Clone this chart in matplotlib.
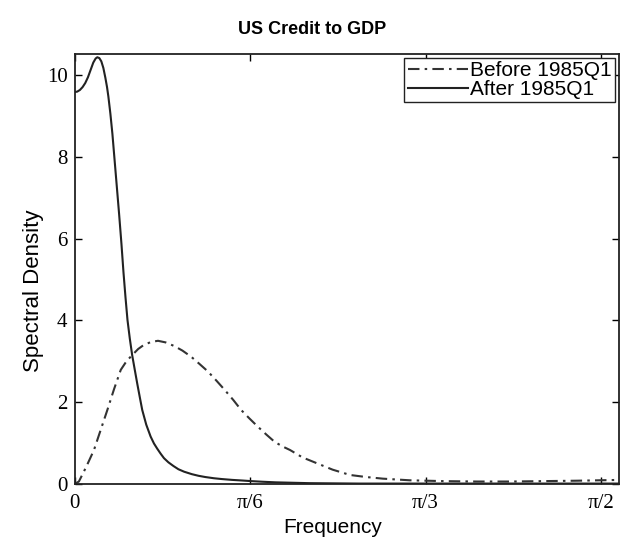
import numpy as np
import matplotlib
matplotlib.use("Agg")
import matplotlib.pyplot as plt

# spectral density
freq_before = [0.0, 0.013, 0.035, 0.058, 0.078, 0.098, 0.118, 0.138, 0.155, 0.172, 0.19, 0.207,
               0.228, 0.249, 0.272, 0.298, 0.322, 0.348, 0.372, 0.398, 0.424, 0.448, 0.474,
               0.497, 0.522, 0.547, 0.572, 0.597, 0.62, 0.643, 0.68, 0.722, 0.77, 0.822,
               0.87, 0.92, 1.0, 1.1, 1.2, 1.3, 1.4, 1.5, 1.63]
dens_before = [0.0, 0.06, 0.42, 0.83, 1.32, 1.81, 2.32, 2.79, 3.0, 3.15, 3.3, 3.40,
               3.47, 3.50, 3.46, 3.37, 3.26, 3.11, 2.94, 2.75, 2.52, 2.30, 2.05,
               1.81, 1.60, 1.40, 1.21, 1.03, 0.92, 0.83, 0.65, 0.51, 0.35, 0.22,
               0.17, 0.13, 0.09, 0.07, 0.06, 0.06, 0.07, 0.08, 0.10]

freq_after = [0.0, 0.008, 0.016, 0.024, 0.032, 0.04, 0.048, 0.056, 0.063, 0.068, 0.074,
              0.08, 0.086, 0.092, 0.097, 0.101, 0.107, 0.113, 0.118, 0.123, 0.128, 0.133,
              0.14, 0.146, 0.152, 0.158, 0.165, 0.172, 0.18, 0.187, 0.195, 0.202, 0.214,
              0.227, 0.237, 0.247, 0.257, 0.267, 0.28, 0.295, 0.31, 0.327, 0.35,
              0.37, 0.39, 0.416, 0.44, 0.47, 0.5, 0.527, 0.56, 0.6, 0.65, 0.7, 0.85, 1.0, 1.3, 1.63]
dens_after = [9.58, 9.59, 9.63, 9.70, 9.80, 9.94, 10.12, 10.30, 10.40, 10.43, 10.41,
              10.33, 10.17, 9.93, 9.70, 9.47, 9.05, 8.56, 8.07, 7.58, 7.09, 6.60,
              5.87, 5.18, 4.57, 4.01, 3.55, 3.15, 2.78, 2.46, 2.11, 1.81, 1.45,
              1.16, 0.99, 0.86, 0.74, 0.63, 0.53, 0.44, 0.36, 0.30, 0.24,
              0.20, 0.17, 0.14, 0.12, 0.10, 0.085, 0.07, 0.055, 0.04, 0.03, 0.02, 0.01, 0.01, 0.01, 0.01]

xticks = [0, np.pi / 6, np.pi / 3, np.pi / 2]
xtick_labels = ["0", "\u03c0/6", "\u03c0/3", "\u03c0/2"]
yticks = [0, 2, 4, 6, 8, 10]

fig = plt.figure(figsize=(6.21, 5.41), dpi=100)
ax = fig.add_axes([0.12, 0.1054, 0.8768, 0.7948])

ax.plot(freq_before, dens_before, color="#333333", lw=1.5,
        linestyle=(0, (5.5, 2.5, 1.2, 2.5)), label="Before 1985Q1")
ax.plot(freq_after, dens_after, color="#222222", lw=1.5, label="After 1985Q1")

ax.set_xlim(0, 1.6245)
ax.set_ylim(0, 10.51)
ax.set_xticks(xticks)
ax.set_xticklabels(xtick_labels, family="Liberation Serif", fontsize=15)
ax.set_yticks(yticks)
ax.set_yticklabels([str(v) for v in yticks], family="Liberation Serif", fontsize=15)
ax.tick_params(direction="in", length=5, width=1, top=True, right=True)
ax.tick_params(axis="x", pad=7)
ax.tick_params(axis="y", pad=5)
for s in ax.spines.values():
    s.set_linewidth(1.3)
    s.set_color("#222222")

ax.set_xlabel("Frequency", family="Liberation Sans", fontsize=15)
ax.set_ylabel("Spectral Density", family="Liberation Sans", fontsize=16)
ax.xaxis.set_label_coords(0.475, -0.08)
ax.yaxis.set_label_coords(-0.056, 0.45)
fig.text(312 / 621, 1 - 29 / 541, "US Credit to GDP", family="Liberation Sans",
         fontweight="bold", fontsize=13, ha="center", va="center")

leg = ax.legend(loc="upper right", prop={"family": "Liberation Sans", "size": 15},
                handlelength=2.9, handletextpad=0.1, borderpad=0.15, labelspacing=0.0,
                fancybox=False, framealpha=1, borderaxespad=0.2)
leg.get_frame().set_edgecolor("#222222")
leg.get_frame().set_linewidth(1.0)

fig.savefig("out.png", dpi=100)
